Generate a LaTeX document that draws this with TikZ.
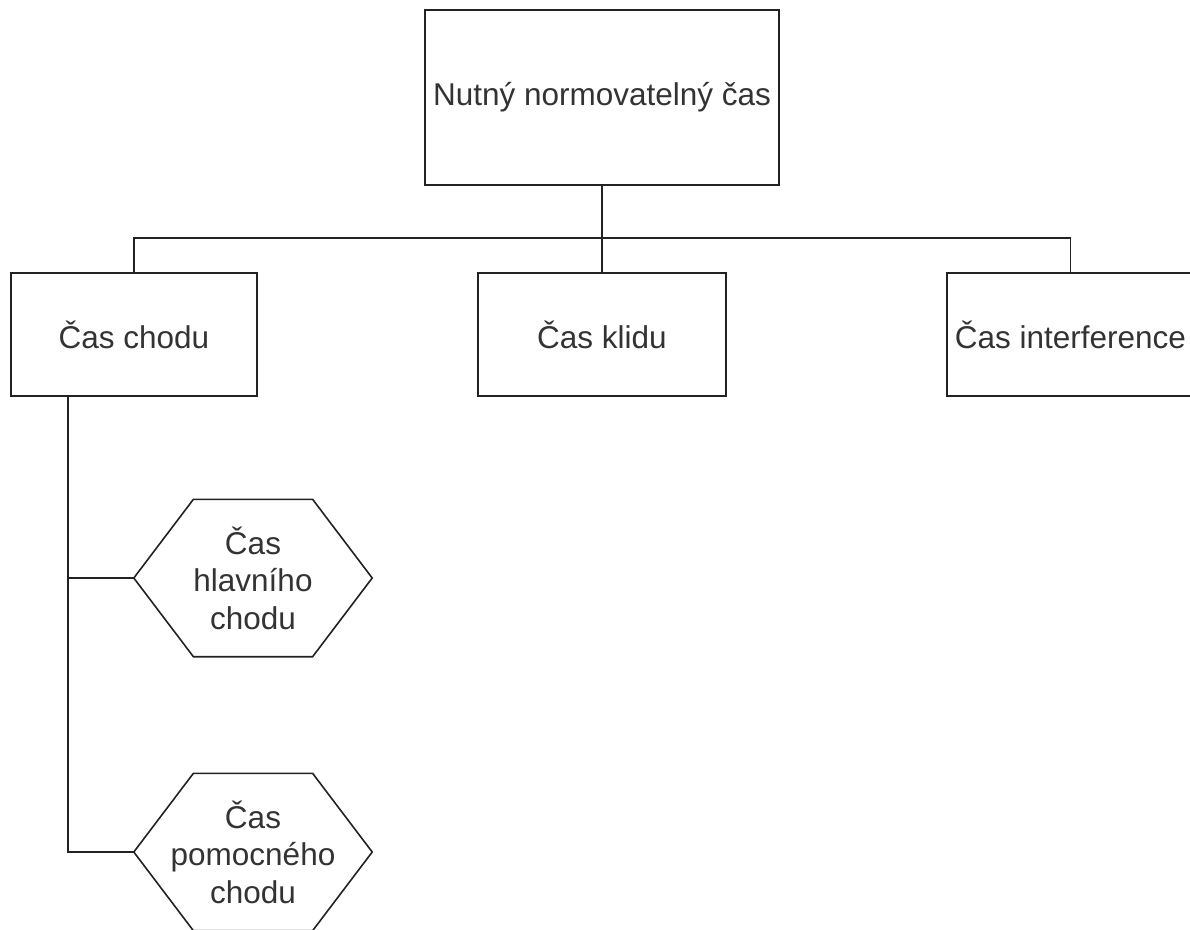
\documentclass[tikz,border=0pt]{standalone}
\usepackage{fontspec}
\setmainfont{Liberation Sans}
\usetikzlibrary{calc}
\definecolor{ink}{HTML}{333333}
\definecolor{edge}{HTML}{222222}
\tikzset{
  lbl/.style={font=\fontsize{31.5}{37.5}\selectfont, text=ink, align=center, inner sep=0pt},
  box/.style={lbl, draw=edge, line width=1.8pt, rectangle},
  hexnode/.style={lbl, rectangle, minimum width=238pt, minimum height=157pt},
  hexline/.style={draw=edge, line width=1.6pt, line join=miter},
  link/.style={draw=edge, line width=1.8pt},
}
\begin{document}
\begin{tikzpicture}[x=1pt, y=-1pt]
  \useasboundingbox (0,0) rectangle (1190,929);

  % root
  \node[box, minimum width=354pt, minimum height=175pt] (root) at (602,97.5) {Nutný normovatelný čas};

  % second level
  \node[box, minimum width=246pt, minimum height=123pt] (chod)  at (134,334.5)  {Čas chodu};
  \node[box, minimum width=248pt, minimum height=123pt] (klid)  at (602,334.5) {Čas klidu};
  \node[box, minimum width=247pt, minimum height=123pt] (inter) at (1070.5,334.5) {Čas interference};

  % hexagon nodes
  \node[hexnode] (hlavni) at (253,578) {Čas\\hlavního\\chodu};
  \node[hexnode] (pomoc)  at (253,852) {Čas\\pomocného\\chodu};
  \foreach \h in {hlavni,pomoc}{
    \draw[hexline] (\h.west)
      -- ($(\h.north west)!0.25!(\h.north east)$)
      -- ($(\h.north west)!0.75!(\h.north east)$)
      -- (\h.east)
      -- ($(\h.south west)!0.75!(\h.south east)$)
      -- ($(\h.south west)!0.25!(\h.south east)$)
      -- cycle;
  }

  % tree connectors
  \coordinate (bus) at (602,238);
  \draw[link] (root.south) -- (bus);
  \draw[link] (bus) -- (klid.north);
  \draw[link] (chod.north) |- (bus) -| (inter.north);

  % spine under "Čas chodu"
  \coordinate (spine) at (68,396);
  \draw[link] (spine) |- (pomoc.west);
  \draw[link] (spine |- hlavni.west) -- (hlavni.west);
\end{tikzpicture}
\end{document}
